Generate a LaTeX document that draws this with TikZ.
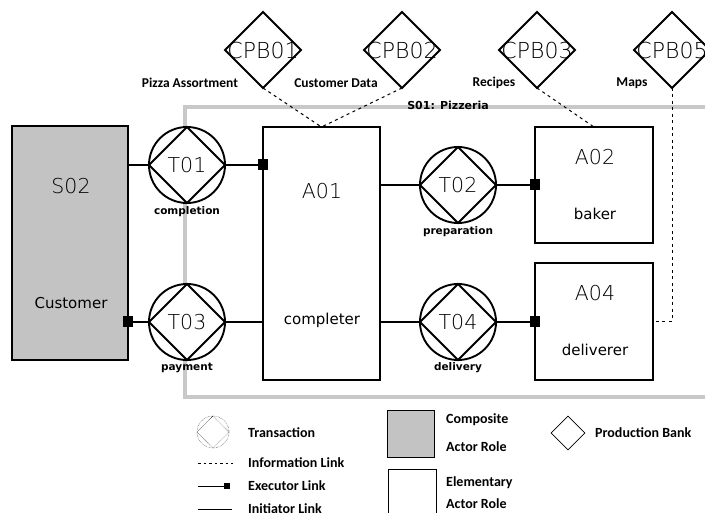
\documentclass[tikz,border=0pt]{standalone}
\usepackage{fontspec}
\usetikzlibrary{shapes.geometric,arrows.meta}
\setmainfont{DejaVu Sans}
\newfontfamily\idf{DejaVu Sans ExtraLight}
\newfontfamily\lbf{Carlito}
\definecolor{boxgray}{HTML}{C3C3C3}
\definecolor{bgray}{HTML}{C8C8C8}
\begin{document}
\begin{tikzpicture}[x=1pt,y=-1pt,
  actor/.style={draw, line width=2pt, inner sep=0, outer sep=0},
  trans/.style={circle, draw, fill=white, line width=1.9pt, minimum size=76pt, inner sep=0, outer sep=0,
                font=\idf\fontsize{20.5}{20}\selectfont},
  bank/.style={diamond, draw, fill=white, line width=1.9pt, minimum width=76pt, minimum height=76pt, inner sep=0, outer sep=0},
  link/.style={line width=1.9pt},
  exec/.style={link, -{Square[length=10pt,width=11pt]}, shorten >=-5pt},
  info/.style={line width=1pt, dash pattern=on 3pt off 3.5pt},
  idtxt/.style={font=\idf\fontsize{20.5}{20}\selectfont},
  cpbtxt/.style={font=\idf\fontsize{22}{22}\selectfont},
  roletxt/.style={font=\fontsize{15}{15}\selectfont},
  small/.style={font=\bfseries\fontsize{10.5}{10.5}\selectfont},
  lab/.style={font=\lbf\bfseries\fontsize{13.5}{13.5}\selectfont},
  leg/.style={font=\lbf\bfseries\fontsize{14}{14}\selectfont, anchor=west, inner sep=0}
]
\useasboundingbox (0,0) rectangle (705,513);
\fill[white] (0,0) rectangle (705,513);
\clip (0,0) rectangle (705,513);

% system boundary
\draw[bgray, line width=4pt] (712,107) -| (185,397) -- (712,397);
\node[font=\bfseries\fontsize{11}{11}\selectfont, inner sep=0] (S01) at (448,105) {S01: Pizzeria};

% actors
\node[actor, fill=boxgray, minimum width=116pt, minimum height=234pt] (S02) at (70,243) {};
\node[idtxt] (S02t) at (71,186) {S02};
\node[roletxt] (S02r) at (71,303) {Customer};

\node[actor, fill=white, minimum width=117pt, minimum height=253pt] (A01) at (321.5,253.5) {};
\node[idtxt] (A01t) at (322,191) {A01};
\node[roletxt] (A01r) at (322,320) {completer};

\node[actor, fill=white, minimum width=118pt, minimum height=116pt] (A02) at (594,185) {};
\node[idtxt] (A02t) at (595,157) {A02};
\node[roletxt] (A02r) at (595,214) {baker};

\node[actor, fill=white, minimum width=118pt, minimum height=117pt] (A04) at (594,321.5) {};
\node[idtxt] (A04t) at (595,293) {A04};
\node[roletxt] (A04r) at (595,350) {deliverer};

% transactions
\foreach \n/\x/\y in {T01/187/165, T03/187/322, T02/458/185, T04/458/322}{
  \node[trans] (\n) at (\x,\y) {\n};
  \draw[link] (\n.north) -- (\n.east) -- (\n.south) -- (\n.west) -- cycle;
}
\node[small] (T01l) at (187,212) {completion};
\node[small] (T03l) at (187,368) {payment};
\node[small] (T02l) at (458,232) {preparation};
\node[small] (T04l) at (458,368) {delivery};

% links
\draw[link] (S02.east |- T01) -- (T01.west);
\draw[exec] (T01.east) -- (A01.west |- T01);
\draw[link] (A01.east |- T02) -- (T02.west);
\draw[exec] (T02.east) -- (A02.west |- T02);
\draw[exec] (T03.west) -- (S02.east |- T03);
\draw[link] (T03.east) -- (A01.west |- T03);
\draw[link] (A01.east |- T04) -- (T04.west);
\draw[exec] (T04.east) -- (A04.west |- T04);

% production banks
\foreach \n/\x in {CPB01/263, CPB02/402, CPB03/537, CPB05/672}{
  \node[bank] (\n) at (\x,50) {};
  \node[cpbtxt, inner sep=0] at (\n) {\n};
}
\node[lab] (l1) at (190,83) {Pizza Assortment};
\node[lab] (l2) at (336,83) {Customer Data};
\node[lab] (l3) at (494,83) {Recipes};
\node[lab] (l5) at (632,83) {Maps};

\draw[info] (CPB01.south) -- (A01.north);
\draw[info] (CPB02.south) -- (A01.north);
\draw[info] (CPB03.south) -- (A02.north);
\draw[info] (CPB05.south) -- (CPB05.south |- A04.east) -- (A04.east);

% legend
\node[circle, draw, thin, densely dotted, minimum size=32pt, inner sep=0, outer sep=0] (LT) at (213,432) {};
\draw[thin, densely dotted] (LT.north) -- (LT.east) -- (LT.south) -- (LT.west) -- cycle;
\node[leg] (LTt) at (248,433) {Transaction};

\coordinate (i1) at (198,463); \coordinate (i2) at (233,463);
\draw[line width=0.8pt, dash pattern=on 2.5pt off 3pt] (i1) -- (i2);
\node[leg] (LIt) at (248,463) {Information Link};

\coordinate (e1) at (198,486); \coordinate (e2) at (230,486);
\draw[line width=1pt, -{Square[length=6pt,width=6pt]}] (e1) -- (e2);
\node[leg] (LEt) at (248,486) {Executor Link};

\coordinate (n1) at (198,509); \coordinate (n2) at (232,509);
\draw[line width=1pt] (n1) -- (n2);
\node[leg] (LNt) at (248,509) {Initiator Link};

\node[draw, fill=boxgray, line width=1pt, minimum width=47pt, minimum height=47pt, inner sep=0] (LC) at (410.5,433.5) {};
\node[leg] (LCt1) at (446,420) {Composite};
\node[leg] (LCt2) at (446,447) {Actor Role};

\node[draw, fill=white, line width=1pt, minimum width=48pt, minimum height=56pt, inner sep=0] (LA) at (412,497) {};
\node[leg] (LAt1) at (446,483) {Elementary};
\node[leg] (LAt2) at (446,504) {Actor Role};

\node[diamond, draw, line width=0.6pt, minimum width=34pt, minimum height=34pt, inner sep=0] (LB) at (568,433) {};
\node[leg] (LBt) at (595,433) {Production Bank};
\end{tikzpicture}
\end{document}
